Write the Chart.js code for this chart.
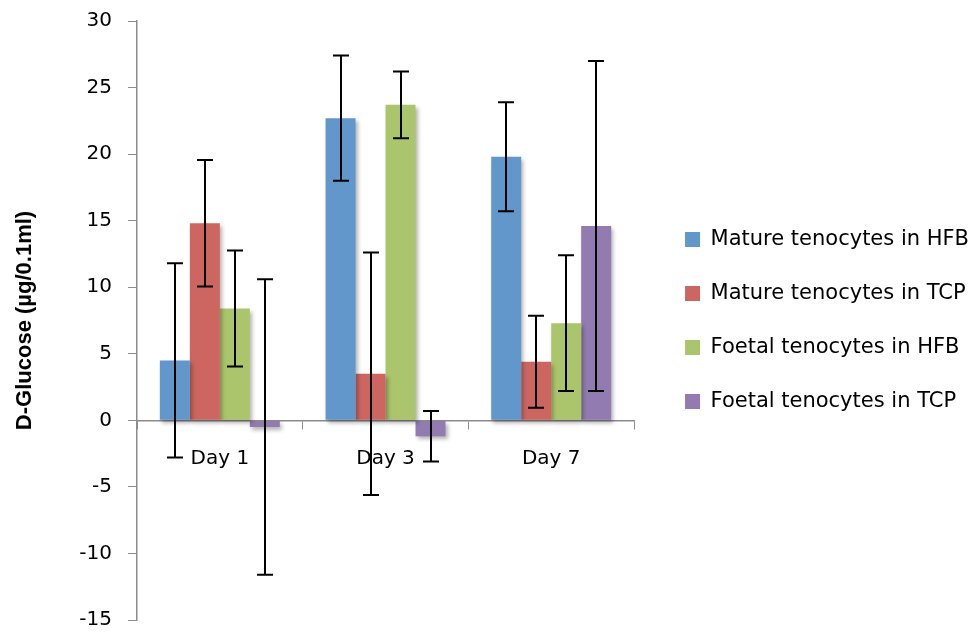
<!DOCTYPE html>
<html>
<head>
<meta charset="utf-8">
<script src="https://cdn.jsdelivr.net/npm/chart.js@4"></script>
<style>
  html, body { margin: 0; padding: 0; background: #fff; }
  #wrap { position: relative; width: 979px; height: 635px; }
</style>
</head>
<body>
<div id="wrap"><canvas id="chart"></canvas></div>
<script>
// ===== DATA =====
const categories = ['Day 1', 'Day 3', 'Day 7'];
const seriesNames = [
    'Mature tenocytes in HFB',
    'Mature tenocytes in TCP',
    'Foetal tenocytes in HFB',
    'Foetal tenocytes in TCP'
];
const matureHFB = [4.5, 22.7, 19.8];
const matureTCP = [14.8, 3.5, 4.4];
const foetalHFB = [8.4, 23.7, 7.3];
const foetalTCP = [-0.5, -1.2, 14.6];

const matureHFBErr = [7.3, 4.7, 4.1];
const matureTCPErr = [4.75, 9.1, 3.45];
const foetalHFBErr = [4.35, 2.5, 5.1];
const foetalTCPErr = [11.1, 1.9, 12.4];

const yTicks = [-15, -10, -5, 0, 5, 10, 15, 20, 25, 30];

const colors = ['#6197CB', '#CD6660', '#ABC56D', '#917BB0'];
const axisGray = '#8C8C8C';

const seriesValues = [matureHFB, matureTCP, foetalHFB, foetalTCP];
const seriesErrors = [matureHFBErr, matureTCPErr, foetalHFBErr, foetalTCPErr];

// ===== ERROR BARS + SHADOW =====
const errorBarPlugin = {
    id: 'errorBars',
    beforeDatasetsDraw(chart) {
        const ctx = chart.ctx;
        ctx.save();
        ctx.shadowColor = 'rgba(0, 0, 0, 0.3)';
        ctx.shadowBlur = 4;
        ctx.shadowOffsetX = 2;
        ctx.shadowOffsetY = 3;
    },
    afterDatasetsDraw(chart) {
        const ctx = chart.ctx;
        ctx.restore();
        const yScale = chart.scales.y;
        ctx.save();
        ctx.strokeStyle = '#000';
        ctx.lineWidth = 2;
        chart.data.datasets.forEach((ds, i) => {
            const meta = chart.getDatasetMeta(i);
            meta.data.forEach((bar, j) => {
                const v = ds.data[j];
                const e = seriesErrors[i][j];
                const top = yScale.getPixelForValue(v + e);
                const bot = yScale.getPixelForValue(v - e);
                const x = Math.round(bar.x);
                ctx.beginPath();
                ctx.moveTo(x, top);
                ctx.lineTo(x, bot);
                ctx.moveTo(x - 8, top);
                ctx.lineTo(x + 8, top);
                ctx.moveTo(x - 8, bot);
                ctx.lineTo(x + 8, bot);
                ctx.stroke();
            });
        });
        ctx.restore();
    }
};

const tickFont = { family: "'DejaVu Sans'", size: 20 };

new Chart(document.getElementById('chart'), {
    type: 'bar',
    data: {
        labels: categories,
        datasets: seriesNames.map((name, i) => ({
            label: name,
            data: seriesValues[i],
            backgroundColor: colors[i],
            borderWidth: 0,
            barPercentage: 1,
            categoryPercentage: 0.724
        }))
    },
    options: {
        responsive: true,
        maintainAspectRatio: false,
        animation: false,
        layout: { padding: { left: 8, top: 21, bottom: 15, right: 0 } },
        plugins: {
            tooltip: { enabled: false },
            legend: {
                position: 'right',
                maxWidth: 400,
                labels: {
                    color: '#000',
                    font: { family: "'DejaVu Sans'", size: 21 },
                    boxWidth: 15,
                    boxHeight: 15,
                    padding: 33
                }
            }
        },
        scales: {
            x: {
                position: { y: 0 },
                offset: true,
                grid: {
                    offset: true,
                    drawOnChartArea: false,
                    tickLength: 8,
                    color: axisGray
                },
                border: { color: axisGray, width: 1.5 },
                ticks: { color: '#000', font: tickFont, padding: 18 }
            },
            y: {
                min: -15,
                max: 30,
                afterBuildTicks(scale) {
                    scale.ticks = yTicks.map(v => ({ value: v }));
                },
                afterFit(scale) {
                    scale.width = 129;
                    scale.paddingTop = 0;
                    scale.paddingBottom = 0;
                },
                grid: {
                    drawOnChartArea: false,
                    tickLength: 9,
                    color: axisGray
                },
                border: { color: axisGray, width: 1.5 },
                ticks: { color: '#000', font: tickFont, padding: 16 },
                title: {
                    display: true,
                    text: 'D-Glucose (µg/0.1ml)',
                    color: '#000',
                    font: { family: "'Liberation Sans'", size: 22, weight: 'bold' }
                }
            },
            gap: {
                type: 'linear',
                position: 'right',
                display: true,
                grid: { display: false },
                ticks: { display: false },
                border: { display: false },
                afterFit(scale) {
                    scale.width = 18;
                    scale.paddingTop = 0;
                    scale.paddingBottom = 0;
                }
            }
        }
    },
    plugins: [errorBarPlugin]
});
</script>
</body>
</html>
